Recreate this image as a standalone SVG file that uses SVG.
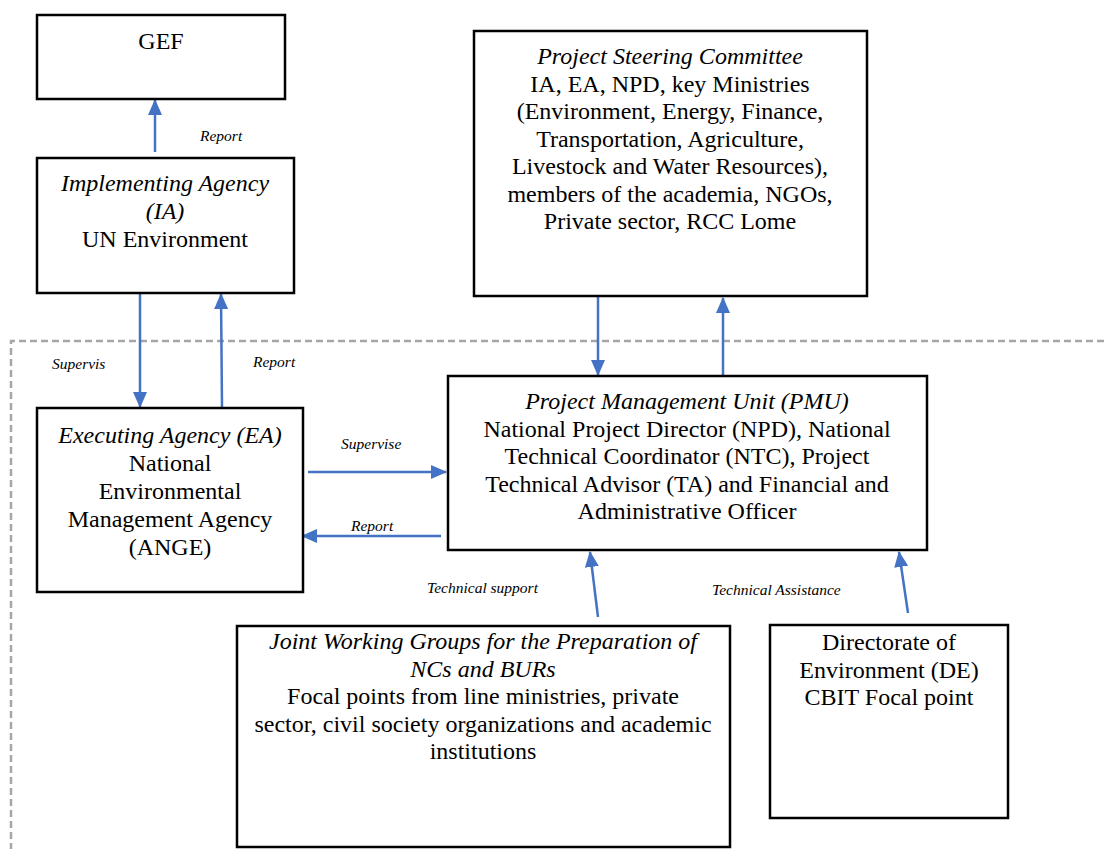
<svg xmlns="http://www.w3.org/2000/svg" width="1104" height="849" viewBox="0 0 1104 849" font-family="'Liberation Serif', 'Times New Roman', 'DejaVu Serif', serif">
<style>
.box{fill:#fff;stroke:#000;stroke-width:2.5}
.t{font-size:24px;fill:#000;text-anchor:middle}
.i{font-style:italic}
.lbl{font-size:15.5px;font-style:italic;fill:#000}
.c{fill:none;stroke:#4472C4;stroke-width:2.5}
</style>
<defs>
<marker id="ah" markerUnits="userSpaceOnUse" markerWidth="16" markerHeight="16" viewBox="0 0 16 16" refX="15" refY="8" orient="auto">
<path d="M0,1 L16,8 L0,15 Z" fill="#4472C4"/>
</marker>
</defs>
<rect width="1104" height="849" fill="#fff"/>
<g id="boundary">
<path d="M1104,341 L11,341 L11,849" fill="none" stroke="#A6A6A6" stroke-width="2.5" stroke-dasharray="7,4"/>
</g>
<g id="connectors">
<line class="c" x1="155" y1="152" x2="155" y2="100" marker-end="url(#ah)"/>
<line class="c" x1="140" y1="293" x2="140" y2="407" marker-end="url(#ah)"/>
<line class="c" x1="222" y1="408" x2="221" y2="294" marker-end="url(#ah)"/>
<line class="c" x1="598" y1="297" x2="598" y2="375" marker-end="url(#ah)"/>
<line class="c" x1="723" y1="376" x2="723" y2="298" marker-end="url(#ah)"/>
<line class="c" x1="308" y1="472" x2="446" y2="472" marker-end="url(#ah)"/>
<line class="c" x1="441" y1="536" x2="302" y2="536" marker-end="url(#ah)"/>
<line class="c" x1="598" y1="617" x2="590" y2="552" marker-end="url(#ah)"/>
<line class="c" x1="908" y1="613" x2="899" y2="552" marker-end="url(#ah)"/>
<text class="lbl" x="200" y="141">Report</text>
<text class="lbl" x="52" y="369">Supervis</text>
<text class="lbl" x="253" y="367">Report</text>
<text class="lbl" x="341" y="449">Supervise</text>
<text class="lbl" x="351" y="531">Report</text>
<text class="lbl" x="427" y="593">Technical support</text>
<text class="lbl" x="712" y="595">Technical Assistance</text>
</g>
<g id="gef">
<rect class="box" x="37" y="15" width="248" height="84"/>
<text class="t" x="161" y="49">GEF</text>
</g>
<g id="ia">
<rect class="box" x="37" y="158" width="257" height="135"/>
<text class="t" x="165" y="191"><tspan class="i">Implementing Agency</tspan><tspan class="i" x="165" dy="28">(IA)</tspan><tspan x="165" dy="28">UN Environment</tspan></text>
</g>
<g id="psc">
<rect class="box" x="474" y="31" width="393" height="265"/>
<text class="t" x="670" y="64"><tspan class="i">Project Steering Committee</tspan><tspan x="670" dy="27.5">IA, EA, NPD, key Ministries</tspan><tspan x="670" dy="27.5">(Environment, Energy, Finance,</tspan><tspan x="670" dy="27.5">Transportation, Agriculture,</tspan><tspan x="670" dy="27.5">Livestock and Water Resources),</tspan><tspan x="670" dy="27.5">members of the academia, NGOs,</tspan><tspan x="670" dy="27.5">Private sector, RCC Lome</tspan></text>
</g>
<g id="ea">
<rect class="box" x="37" y="408" width="266" height="184"/>
<text class="t" x="170" y="443"><tspan class="i">Executing Agency (EA)</tspan><tspan x="170" dy="28">National</tspan><tspan x="170" dy="28">Environmental</tspan><tspan x="170" dy="28">Management Agency</tspan><tspan x="170" dy="28">(ANGE)</tspan></text>
</g>
<g id="pmu">
<rect class="box" x="448" y="376" width="479" height="174"/>
<text class="t" x="687" y="409"><tspan class="i">Project Management Unit (PMU)</tspan><tspan x="687" dy="27.5">National Project Director (NPD), National</tspan><tspan x="687" dy="27.5">Technical Coordinator (NTC), Project</tspan><tspan x="687" dy="27.5">Technical Advisor (TA) and Financial and</tspan><tspan x="687" dy="27.5">Administrative Officer</tspan></text>
</g>
<g id="jwg">
<rect class="box" x="237" y="626" width="493" height="221"/>
<text class="t" x="483" y="649"><tspan class="i">Joint Working Groups for the Preparation of</tspan><tspan class="i" x="483" dy="27.5">NCs and BURs</tspan><tspan x="483" dy="27.5">Focal points from line ministries, private</tspan><tspan x="483" dy="27.5">sector, civil society organizations and academic</tspan><tspan x="483" dy="27.5">institutions</tspan></text>
</g>
<g id="de">
<rect class="box" x="770" y="625" width="238" height="193"/>
<text class="t" x="889" y="650"><tspan>Directorate of</tspan><tspan x="889" dy="27.5">Environment (DE)</tspan><tspan x="889" dy="27.5">CBIT Focal point</tspan></text>
</g>
</svg>
